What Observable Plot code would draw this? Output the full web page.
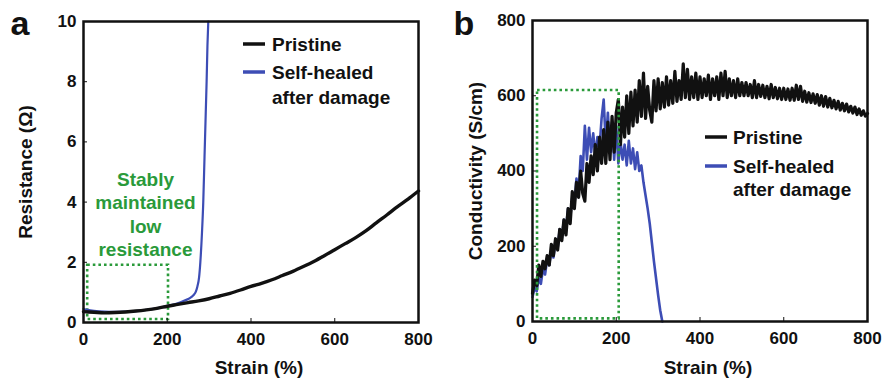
<!DOCTYPE html>
<html><head><meta charset="utf-8">
<script src="https://cdn.jsdelivr.net/npm/d3@7"></script>
<script src="https://cdn.jsdelivr.net/npm/@observablehq/plot@0.6"></script>
<style>
body{margin:0;background:#fff;}
#wrap{display:flex;width:883px;height:381px;overflow:hidden;}
#wrap svg{font-family:"Liberation Sans",Arial,sans-serif;}
</style></head><body><div id="wrap"></div>
<script>
// ---- data ----
const strainTicks = [0, 200, 400, 600, 800];
const resistTicks = [0, 2, 4, 6, 8, 10];
const condTicks = [0, 200, 400, 600, 800];

// panel a: resistance vs strain
const aPristineStrain = [0,25,50,75,100,125,150,175,200,225,250,275,300,325,350,375,400,425,450,475,500,525,550,575,600,625,650,675,700,725,750,775,800];
const aPristine = [0.36,0.34,0.32,0.33,0.35,0.38,0.42,0.47,0.54,0.60,0.66,0.72,0.79,0.88,0.97,1.08,1.20,1.30,1.42,1.56,1.70,1.86,2.03,2.22,2.42,2.62,2.82,3.05,3.32,3.58,3.85,4.10,4.37];
const aHealedStrain = [0,10,25,50,75,100,125,150,175,200,225,240,250,258,264,268,272,276,279,283,286,289,292,294,296,298];
const aHealed = [0.45,0.42,0.39,0.36,0.35,0.36,0.38,0.42,0.47,0.55,0.64,0.72,0.78,0.85,0.93,1.02,1.2,1.5,2.0,3.0,4.0,5.5,7.0,8.0,9.2,10];
const aBox = [{x1: 10, x2: 203, y1: 0.1, y2: 1.9}];
const aNote = ["Stably", "maintained", "low", "resistance"];

// panel b: conductivity vs strain (sampled every 5 %)
const bPristineStrain = d3.range(0, 801, 5);
const bPristine = [75,110,95,150,120,160,140,175,150,205,175,220,190,245,215,270,230,300,260,345,
  300,370,330,400,340,320,420,370,440,390,470,400,490,420,510,420,530,430,545,450,
  555,590,470,570,490,600,500,610,520,615,530,640,545,660,540,625,560,530,640,560,
  645,565,635,570,650,575,640,580,665,585,640,590,685,595,670,590,650,595,660,590,
  650,595,645,600,655,590,645,600,650,590,660,600,665,595,645,600,640,595,645,600,
  635,600,635,600,630,595,640,595,630,598,628,595,625,592,630,595,622,592,620,590,
  620,590,618,588,620,588,628,590,625,585,612,583,608,582,605,580,603,575,600,572,
  598,570,593,568,588,565,585,562,580,560,578,557,572,554,570,550,565,548,560,546,553];
const bHealedStrain = d3.range(0, 311, 5);
const bHealed = [65,90,80,115,100,140,125,165,150,190,170,215,195,245,220,270,250,300,275,330,
  310,380,340,440,400,520,430,515,450,500,440,490,460,540,590,470,555,450,530,430,
  520,420,480,430,470,415,480,420,460,405,450,400,415,370,335,300,260,210,160,115,70,30,0];
const bBox = [{x1: 12, x2: 207, y1: 7, y2: 614}];

const seriesNames = ["Pristine", ["Self-healed", "after damage"]];
const colors = {pristine: "#111111", healed: "#3d4db5", green: "#2a9a3a"};

// ---- helpers ----
const FONT = '"Liberation Sans", Arial, sans-serif';

function legendMark(dxSw, dxText, yRows) {
  return (index, scales, values, dims) => {
    const g = d3.create("svg:g")
      .attr("font-family", FONT).attr("font-weight", "bold").attr("font-size", 19)
      .attr("fill", "#111").attr("text-anchor", "start");
    const x0 = dims.marginLeft, y0 = dims.marginTop;
    const rows = [
      {label: seriesNames[0], color: colors.pristine, ys: [yRows[0]]},
      {label: seriesNames[1], color: colors.healed, ys: [yRows[1], yRows[2]]}
    ];
    rows.forEach(r => {
      g.append("line").attr("x1", x0 + dxSw[0]).attr("x2", x0 + dxSw[1])
        .attr("y1", y0 + r.ys[0]).attr("y2", y0 + r.ys[0])
        .attr("stroke", r.color).attr("stroke-width", 3.5);
      const labels = Array.isArray(r.label) ? r.label : [r.label];
      labels.forEach((t, i) => {
        g.append("text").attr("x", x0 + dxText).attr("y", y0 + r.ys[i])
          .attr("dy", "0.35em").attr("text-anchor", "start").text(t);
      });
    });
    return g.node();
  };
}

const common = {
  height: 381,
  marginTop: 21,
  marginBottom: 59,
  style: {fontFamily: FONT, fontSize: "17px", fontWeight: "bold", color: "#111", background: "white", overflow: "visible"}
};

const plotA = Plot.plot({
  ...common,
  width: 440,
  marginLeft: 83,
  marginRight: 22,
  x: {domain: [0, 800], label: null},
  y: {domain: [0, 10], label: null},
  marks: [
    Plot.rect(aBox, {x1: "x1", x2: "x2", y1: "y1", y2: "y2", fill: "none", stroke: colors.green, strokeWidth: 2.6, strokeDasharray: "2.6,3"}),
    Plot.line(aHealedStrain, {x: d => d, y: (d, i) => aHealed[i], stroke: colors.healed, strokeWidth: 2.2, curve: "monotone-x"}),
    Plot.line(aPristineStrain, {x: d => d, y: (d, i) => aPristine[i], stroke: colors.pristine, strokeWidth: 3.4, curve: "monotone-x"}),
    Plot.frame({stroke: "#111", strokeWidth: 2.5}),
    Plot.axisX({ticks: strainTicks, tickSize: -4, tickPadding: 14, label: null, fontSize: 17}),
    Plot.axisY({ticks: resistTicks, tickSize: -4, tickPadding: 11, label: null, fontSize: 17}),
    Plot.text(["Strain (%)"], {frameAnchor: "bottom", dx: 8, dy: 45, lineAnchor: "middle", textAnchor: "middle", fontSize: 19, fontWeight: "bold"}),
    Plot.text(["Resistance (Ω)"], {frameAnchor: "left", dx: -58, rotate: -90, textAnchor: "middle", lineAnchor: "middle", fontSize: 19, fontWeight: "bold"}),
    Plot.text(["a"], {frameAnchor: "top-left", dx: -73, dy: 3, textAnchor: "start", lineAnchor: "middle", fontSize: 34, fontWeight: "bold"}),
    Plot.text([aNote.join("\n")], {x: 148, y: 3.62, lineAnchor: "middle", lineHeight: 1.22, fill: colors.green, fontSize: 19, fontWeight: "bold"}),
    legendMark([160, 182], 189, [23, 51, 76])
  ]
});

const plotB = Plot.plot({
  ...common,
  width: 443,
  marginLeft: 92,
  marginRight: 16,
  marginTop: 20,
  marginBottom: 60,
  x: {domain: [0, 800], label: null},
  y: {domain: [0, 800], label: null},
  marks: [
    Plot.line(bHealedStrain, {x: d => d, y: (d, i) => bHealed[i], stroke: colors.healed, strokeWidth: 2.6}),
    Plot.line(bPristineStrain, {x: d => d, y: (d, i) => bPristine[i], stroke: colors.pristine, strokeWidth: 3.2}),
    Plot.rect(bBox, {x1: "x1", x2: "x2", y1: "y1", y2: "y2", fill: "none", stroke: colors.green, strokeWidth: 2.6, strokeDasharray: "2.6,3"}),
    Plot.frame({stroke: "#111", strokeWidth: 2.5}),
    Plot.axisX({ticks: strainTicks, tickSize: -4, tickPadding: 14, label: null, fontSize: 17}),
    Plot.axisY({ticks: condTicks, tickSize: -4, tickPadding: 11, label: null, fontSize: 17}),
    Plot.text(["Strain (%)"], {frameAnchor: "bottom", dx: 8, dy: 46, lineAnchor: "middle", textAnchor: "middle", fontSize: 19, fontWeight: "bold"}),
    Plot.text(["Conductivity (S/cm)"], {frameAnchor: "left", dx: -57, rotate: -90, textAnchor: "middle", lineAnchor: "middle", fontSize: 19, fontWeight: "bold"}),
    Plot.text(["b"], {frameAnchor: "top-left", dx: -79, dy: 4, textAnchor: "start", lineAnchor: "middle", fontSize: 34, fontWeight: "bold"}),
    legendMark([173, 195], 201, [117, 146, 169])
  ]
});

document.getElementById("wrap").append(plotA, plotB);
</script>
</body></html>
